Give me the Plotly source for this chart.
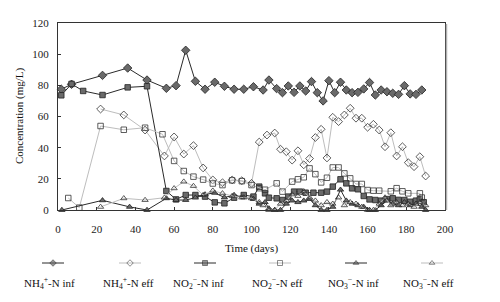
import plotly.graph_objects as go

# ---------------- data ----------------
nh4_inf_days = [1.7, 7, 23, 36, 46, 56, 61, 66, 71, 76, 81, 86, 91, 96, 101, 106, 109, 113, 116, 119,
                122, 125, 128, 131, 134, 137, 140, 143, 146, 149, 152, 155, 158, 161, 164, 167, 170,
                173, 176, 179, 182, 185, 188]
nh4_inf = [77.5, 80.7, 86.4, 91.1, 83.4, 78.1, 79.8, 102.5, 82.6, 77.5, 82.0, 79.4, 77.5, 77.5, 79.1,
           77.0, 83.4, 77.9, 75.3, 79.6, 75.5, 79.6, 76.4, 82.4, 75.3, 70.0, 83.0, 75.3, 82.0, 77.0,
           75.3, 75.5, 77.7, 81.8, 73.8, 77.0, 75.9, 74.9, 74.2, 79.8, 74.5, 74.2, 77.0]

nh4_eff_days = [22, 34, 45, 55, 60, 65, 70, 75, 80, 85, 90, 95, 100, 104, 108, 112, 115, 118, 121, 124,
                127, 130, 133, 136, 139, 142, 145, 148, 151, 154, 157, 160, 163, 166, 169, 172, 175,
                178, 181, 184, 187, 190]
nh4_eff = [64.8, 61.0, 51.3, 34.7, 46.9, 35.9, 41.3, 27.0, 19.3, 17.5, 19.3, 18.8, 17.1, 43.6, 48.1,
           49.4, 39.0, 37.4, 32.0, 38.0, 29.0, 33.0, 46.5, 51.8, 33.4, 59.5, 56.7, 61.0, 65.3, 58.9,
           58.9, 53.1, 55.0, 51.3, 40.6, 49.6, 34.7, 40.6, 30.4, 27.8, 34.2, 21.8]

no2_inf_days = [1.7, 7, 13, 23, 36, 46, 56, 61, 66, 71, 76, 81, 86, 91, 96, 101, 104, 107, 109, 113,
                116, 119, 122, 125, 128, 132, 136, 139, 142, 146, 149, 152, 155, 158, 161, 164, 167,
                170, 173, 176, 179, 182, 185, 187, 189]
no2_inf = [73.6, 80.9, 76.4, 73.8, 78.7, 79.4, 12.2, 6.8, 9.6, 9.6, 8.6, 4.9, 4.3, 7.9, 9.6, 8.6, 15.0,
           10.7, 7.9, 7.5, 6.4, 8.6, 11.8, 11.8, 11.1, 11.1, 11.1, 11.8, 15.0, 19.7, 17.1, 13.9, 13.3,
           9.0, 6.8, 6.4, 6.0, 7.0, 7.5, 6.5, 6.4, 5.3, 6.0, 6.8, 5.0]

no2_eff_days = [5.3, 11, 22, 34, 45, 54, 60, 65, 70, 75, 80, 85, 90, 95, 100, 104, 107, 113, 116, 121,
                124, 127, 130, 133, 136, 139, 142, 145, 148, 151, 154, 157, 160, 163, 166, 172, 175,
                178, 181, 187, 188]
no2_eff = [7.7, 1.5, 53.9, 51.5, 52.8, 48.6, 31.5, 25.0, 21.4, 19.5, 17.0, 16.0, 19.0, 18.5, 16.0, 14.0,
           13.0, 17.1, 11.8, 18.2, 19.7, 21.0, 26.7, 23.0, 17.7, 20.7, 27.3, 27.3, 23.5, 20.3, 16.7,
           16.7, 12.8, 12.4, 12.4, 12.0, 14.0, 12.0, 10.7, 10.7, 8.0]

no3_inf_days = [2, 23, 37, 46, 56, 61, 66, 71, 76, 81, 86, 91, 96, 101, 104, 107, 109, 112, 115, 118,
                121, 124, 127, 130, 133, 136, 139, 142, 146, 149, 152, 155, 158, 161, 164, 167, 170,
                173, 176, 179, 182, 185, 188, 190]
no3_inf = [0.0, 6.2, 2.0, 0.0, 7.5, 6.4, 6.4, 7.9, 10.0, 11.0, 8.0, 9.6, 8.0, 7.0, 4.0, 5.0, 1.0, 0.0,
           0.0, 4.0, 6.0, 5.0, 6.0, 7.0, 3.0, 0.0, 0.0, 2.0, 13.0, 6.0, 4.0, 3.0, 2.0, 0.0, 0.0, 3.0,
           6.0, 4.0, 3.0, 5.0, 3.0, 4.0, 2.0, 0.0]

no3_eff_days = [22, 34, 45, 55, 60, 65, 70, 75, 80, 85, 90, 95, 100, 104, 106, 109, 112, 115, 118, 121,
                124, 127, 130, 133, 136, 139, 142, 145, 148, 151, 154, 157, 160, 163, 166, 169, 172,
                175, 178, 181, 184, 187, 190]
no3_eff = [2.0, 7.5, 6.4, 7.9, 13.9, 18.2, 15.4, 9.6, 12.4, 10.7, 9.0, 8.0, 7.5, 5.0, 3.0, 0.0, 0.0,
           4.0, 6.0, 10.0, 9.0, 12.0, 8.0, 6.0, 3.0, 5.0, 4.0, 8.0, 3.0, 5.0, 4.0, 2.0, 0.0, 0.0, 4.0,
           8.0, 3.0, 5.0, 3.0, 4.0, 2.0, 5.0, 3.0]

x_ticks = [0, 20, 40, 60, 80, 100, 120, 140, 160, 180, 200]
y_ticks = [0, 20, 40, 60, 80, 100, 120]

legend_names = ["NH<sub>4</sub><sup>+</sup>-N inf", "NH<sub>4</sub><sup>+</sup>-N eff",
                "NO<sub>2</sub><sup>−</sup>-N inf", "NO<sub>2</sub><sup>−</sup>-N eff",
                "NO<sub>3</sub><sup>−</sup>-N inf", "NO<sub>3</sub><sup>−</sup>-N eff"]

# ---------------- styles ----------------
FONT = "Liberation Serif"
DARK = "#2a2a2a"
LIGHT = "#bdbdbd"
FILL = "#6a6a6a"

series = [
    (nh4_inf_days, nh4_inf, "diamond", FILL, DARK, 6.5),
    (nh4_eff_days, nh4_eff, "diamond-open", "#444444", LIGHT, 6),
    (no2_inf_days, no2_inf, "square", FILL, DARK, 5.5),
    (no2_eff_days, no2_eff, "square-open", "#222222", LIGHT, 5.5),
    (no3_inf_days, no3_inf, "triangle-up", FILL, DARK, 5.5),
    (no3_eff_days, no3_eff, "triangle-up-open", "#333333", LIGHT, 5.5),
]

# The page body has an 8px margin on every side; keep the figure inside the window
# so nothing overflows, and place everything in reference-pixel coordinates.
OFF = 8
REF_W, REF_H = 500, 302
W, H = REF_W - 2 * OFF, REF_H - 2 * OFF
T = 23 - OFF
BOT = OFF + H                      # reference y of figure bottom


def py(ref_y):
    return (BOT - ref_y) / (H - T)


def px(ref_x):
    return (ref_x - OFF) / W


plot_bottom = py(210)

fig = go.Figure()
for (xs, ys, sym, mcol, lcol, ms), name in zip(series, legend_names):
    fig.add_trace(go.Scatter(
        x=xs, y=ys, mode="lines+markers", name=name, showlegend=False,
        line=dict(color=lcol, width=1),
        marker=dict(symbol=sym, size=ms, color=mcol if "open" not in sym else "#333333",
                    line=dict(color="#222222" if "open" not in sym else "#333333", width=0.8)),
        cliponaxis=False,
    ))

# ---------------- manual legend (symbol above text), reference pixel coords ----------------
leg_sym_x = [53, 130, 205, 280, 356, 432]
leg_txt_x = [49, 128, 198, 277, 353, 428]
leg_sym_y = 263
leg_txt_y = 283
for i, ((xs, ys, sym, mcol, lcol, ms), name) in enumerate(zip(series, legend_names)):
    cx = leg_sym_x[i]
    fig.add_trace(go.Scatter(
        x=[cx - 11, cx, cx + 11], y=[leg_sym_y] * 3, xaxis="x2", yaxis="y2",
        mode="lines+markers", showlegend=False, hoverinfo="skip",
        line=dict(color=lcol, width=1),
        marker=dict(symbol=sym, size=[0, 5, 0], color=mcol if "open" not in sym else "#333333",
                    line=dict(color="#222222" if "open" not in sym else "#333333", width=0.8)),
    ))
    fig.add_annotation(x=leg_txt_x[i], y=leg_txt_y, xref="x2", yref="y2", text=name,
                       showarrow=False, font=dict(family=FONT, size=11, color="#111111"),
                       xanchor="center", yanchor="middle")

# axis titles
fig.add_annotation(x=251, y=248, xref="x2", yref="y2", text="Time (days)", showarrow=False,
                   font=dict(family=FONT, size=11, color="#111111"), xanchor="center", yanchor="middle")
fig.add_annotation(x=px(19), y=py(116), xref="paper", yref="paper",
                   text="Concentration (mg/L)", textangle=-90, showarrow=False,
                   font=dict(family=FONT, size=11, color="#111111"), xanchor="center", yanchor="middle")

# soft shadow to the right of the frame, as in the reference
fig.add_shape(type="line", xref="paper", yref="paper", x0=px(446.5), x1=px(446.5),
              y0=py(210), y1=py(24), line=dict(color="#b0b0b0", width=1.5))

fig.update_layout(
    width=W, height=H,
    margin=dict(l=0, r=0, t=T, b=0, autoexpand=False),
    paper_bgcolor="white", plot_bgcolor="white",
    font=dict(family=FONT, size=11, color="#222222"),
    showlegend=False,
    xaxis=dict(domain=[px(58), px(445)], range=[0, 200], tickvals=x_ticks,
               showline=True, mirror=True, linecolor="#333333", linewidth=1,
               ticks="inside", ticklen=3, tickcolor="#333333", showgrid=False, zeroline=False,
               ticklabelstandoff=9, automargin=False,
               tickfont=dict(family=FONT, size=11, color="#222222"), anchor="y"),
    yaxis=dict(domain=[plot_bottom, 1], range=[0, 120], tickvals=y_ticks,
               showline=True, mirror=True, linecolor="#333333", linewidth=1,
               ticks="inside", ticklen=3, tickcolor="#333333", showgrid=False, zeroline=False,
               ticklabelstandoff=6, automargin=False,
               tickfont=dict(family=FONT, size=11, color="#222222"), anchor="x"),
    xaxis2=dict(domain=[0, 1], range=[OFF, OFF + W], visible=False, anchor="y2", automargin=False),
    yaxis2=dict(domain=[0, plot_bottom], range=[BOT, 210], visible=False, anchor="x2", automargin=False),
)

fig.write_html("out.html")
